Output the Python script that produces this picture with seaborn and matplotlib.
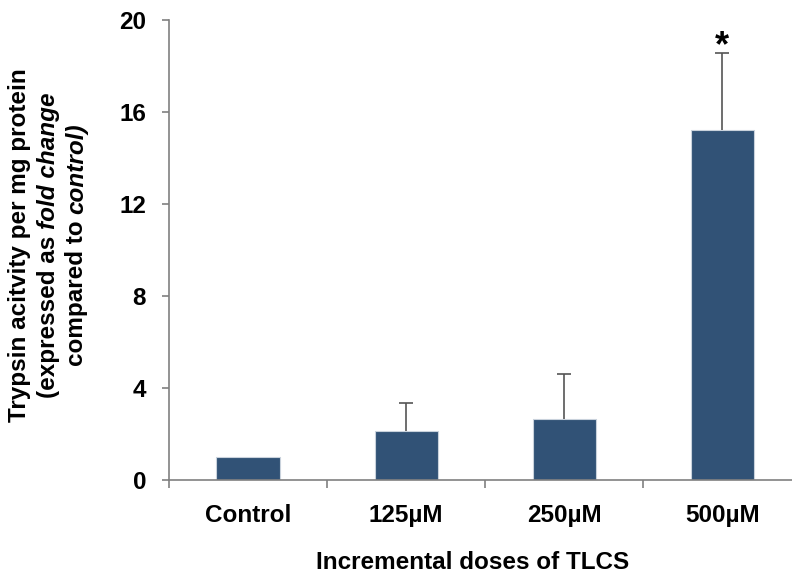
import numpy as np
import pandas as pd
import matplotlib
matplotlib.use("Agg")
import matplotlib.pyplot as plt
import seaborn as sns

# Data
doses = ["Control", "125\u00b5M", "250\u00b5M", "500\u00b5M"]
fold_change = [1.0, 2.15, 2.65, 15.2]
upper_err = [0.0, 1.2, 1.95, 3.35]
significant = [False, False, False, True]

df = pd.DataFrame({"dose": doses, "fold": fold_change, "err": upper_err})

sns.set_style("white")
plt.rcParams["font.family"] = ["Liberation Sans", "DejaVu Sans"]
plt.rcParams["text.color"] = "black"
plt.rcParams["axes.labelcolor"] = "black"
plt.rcParams["xtick.color"] = "black"
plt.rcParams["ytick.color"] = "black"

W, H = 792, 578
fig = plt.figure(figsize=(W / 100, H / 100), dpi=100)
ax = fig.add_axes([169 / W, 1 - 480 / H, 1 - 169 / W, 460 / H])

bar_color = "#315276"
sns.barplot(data=df, x="dose", y="fold", color=bar_color, saturation=1,
            width=0.4, errorbar=None, edgecolor="#c9d2dc", linewidth=0.8, ax=ax)

# only upper error bars, and only where there is an error
x_pos = np.arange(len(doses))
has_err = df["err"] > 0
eb = ax.errorbar(x_pos[has_err], df["fold"][has_err],
                 yerr=[np.zeros(has_err.sum()), df["err"][has_err]],
                 fmt="none", ecolor="#555555", elinewidth=1.2, capsize=5, capthick=1.2,
                 zorder=1)
eb[1][0].set_visible(False)  # hide the lower cap sitting on the bar

# significance star
for i, sig in enumerate(significant):
    if sig:
        ax.text(i, fold_change[i] + upper_err[i] + 0.3, "*", ha="center", va="center",
                fontsize=26, fontweight="bold")

ax.set_ylim(0, 20)
ax.set_yticks([0, 4, 8, 12, 16, 20])
ax.set_xlim(-0.5, 3.44)
ax.set_xticks(x_pos)
ax.set_xticklabels(doses)
ax.set_xticks(np.arange(-0.5, 3.5, 1.0), minor=True)

for side in ["top", "right"]:
    ax.spines[side].set_visible(False)
for side in ["left", "bottom"]:
    ax.spines[side].set_color("#808080")
    ax.spines[side].set_linewidth(1.2)

ax.tick_params(axis="x", which="major", length=0, pad=17, labelsize=17.5)
ax.tick_params(axis="x", which="minor", direction="out", length=5.5, width=1.2,
               color="#808080", bottom=True)
ax.tick_params(axis="y", direction="out", length=5, width=1.2, color="#808080",
               labelcolor="black", pad=11.5, labelsize=17.5, left=True)
for lab in ax.get_xticklabels() + ax.get_yticklabels():
    lab.set_fontweight("bold")
    lab.set_color("black")

ax.set_xlabel("Incremental doses of TLCS", fontsize=17.5, fontweight="bold",
              va="baseline", color="black")
ax.xaxis.set_label_coords((472 - 169) / 622, (480 - 569) / 460)
ax.set_ylabel("")

# y label with mixed upright / italic pieces, drawn as rotated text
renderer = fig.canvas.get_renderer()


def text_width(s, style, size):
    t = fig.text(0, 0, s, fontsize=size, fontweight="bold", fontstyle=style)
    w = t.get_window_extent(renderer).width
    t.remove()
    return w


label_lines = [
    (26, [("Trypsin acitvity per mg protein", "normal")]),
    (55, [("(expressed as", "normal"), ("fold change", "italic")]),
    (83, [("compared to", "normal"), ("control)", "italic")]),
]
label_size = 17.5
space_w = text_width("x x", "normal", label_size) - text_width("xx", "normal", label_size)
y_center = H - 245

for x_base, segs in label_lines:
    widths = [text_width(s, st, label_size) for s, st in segs]
    total = sum(widths) + space_w * (len(segs) - 1)
    y = y_center - total / 2
    for (s, st), w in zip(segs, widths):
        fig.text(x_base / W, y / H, s, fontsize=label_size, fontweight="bold",
                 fontstyle=st, rotation=90, rotation_mode="anchor",
                 ha="left", va="baseline", color="black")
        y += w + space_w

fig.savefig("out.png", dpi=100)
